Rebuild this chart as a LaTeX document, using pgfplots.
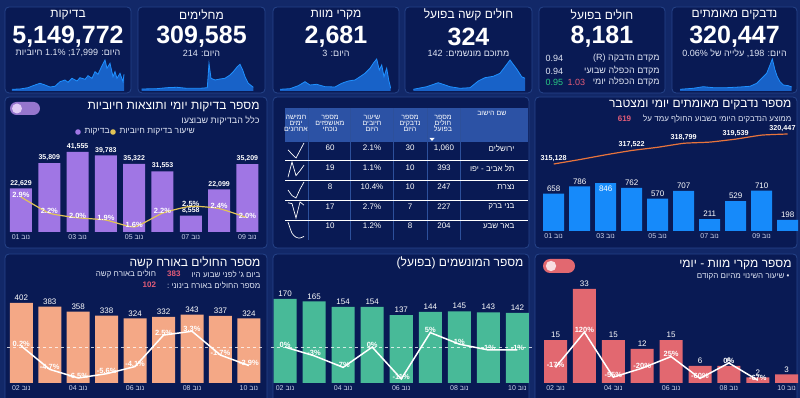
\documentclass[border=0pt]{standalone}
\usepackage{fontspec}
\setmainfont{Liberation Sans}
\newfontfamily\heb[Script=Hebrew]{Liberation Sans}
\usepackage{pgfplots}
\pgfplotsset{compat=1.18}
\TeXXeTstate=1
\newcommand{\R}[1]{{\heb\beginR #1\endR}}
\newcommand{\fs}[1]{\fontsize{#1}{#1}\selectfont}
\definecolor{pagebg}{RGB}{18,40,104}
\definecolor{panel}{RGB}{9,26,84}
\definecolor{pborder}{RGB}{38,68,138}
\definecolor{barpurple}{RGB}{160,118,228}
\definecolor{lineyellow}{RGB}{226,196,86}
\definecolor{barblue}{RGB}{22,138,250}
\definecolor{lineorange}{RGB}{232,116,60}
\definecolor{barsalmon}{RGB}{244,168,134}
\definecolor{barteal}{RGB}{72,186,152}
\definecolor{barred}{RGB}{226,104,112}
\definecolor{accpink}{RGB}{226,92,120}
\definecolor{accgreen}{RGB}{40,200,130}
\definecolor{sparkline}{RGB}{30,144,255}
\definecolor{sparkfill}{RGB}{24,98,200}
\definecolor{thead}{RGB}{44,82,165}
\definecolor{subtxt}{RGB}{225,230,245}
\definecolor{ticktxt}{RGB}{205,212,235}
\definecolor{tdiv}{RGB}{45,80,155}
\definecolor{pillpurple}{RGB}{150,118,205}
\definecolor{knobpurple}{RGB}{225,205,245}
\definecolor{knobred}{RGB}{248,222,226}
\pgfplotsset{
  barax/.style={scale only axis, anchor=south west, clip=false,
    axis line style={draw=none}, ytick=\empty, major tick length=0pt,
    xticklabel style={font=\fs{7}, text=ticktxt, yshift=1pt}, xmin=0.5, ymin=0},
  lineax/.style={scale only axis, anchor=south west, clip=false, hide axis, xmin=0.5},
  spark/.style={scale only axis, anchor=south west, hide axis, y dir=reverse, ymin=57, ymax=91, clip=false},
  barlbl/.style={nodes near coords, point meta=explicit symbolic,
    every node near coord/.append style={text=white, font=#1, anchor=south, inner sep=2pt}},
  linelbl/.style={nodes near coords, point meta=explicit symbolic,
    every node near coord/.append style={text=white, font=\bfseries\fs{7.5}, anchor=south, yshift=-2pt, inner sep=1pt}},
}
\begin{document}
\begin{tikzpicture}[x=1pt,y=1pt]
\useasboundingbox (0,0) rectangle (800,398);
\fill[pagebg] (0,0) rectangle (800,398);
% ---------- panels ----------
\foreach \a/\b in {5/131,138/265,273/399,405/532,539/665,672/797}{
  \filldraw[fill=panel, draw=pborder, line width=0.8pt, rounded corners=4pt] (\a,398-7) rectangle (\b,398-93);
}
\foreach \a/\b in {5/267,273/529,535/797}{
  \filldraw[fill=panel, draw=pborder, line width=0.8pt, rounded corners=4pt] (\a,398-97) rectangle (\b,398-248);
  \filldraw[fill=panel, draw=pborder, line width=0.8pt, rounded corners=4pt] (\a,398-254) rectangle (\b,398-402);
}
% ---------- KPI texts ----------
\node[text=white, font=\fs{12}] at (68,398-15) {\R{בדיקות}};
\node[text=white, font=\fs{12}] at (201.5,398-15) {\R{מחלימים}};
\node[text=white, font=\fs{12}] at (336,398-15) {\R{מקרי מוות}};
\node[text=white, font=\fs{12}] at (468.5,398-15) {\R{חולים קשה בפועל}};
\node[text=white, font=\fs{12}] at (602,398-15) {\R{חולים בפועל}};
\node[text=white, font=\fs{12}] at (734.5,398-15) {\R{נדבקים מאומתים}};
\node[text=white, font=\bfseries\fs{25}] at (68,398-37) {5,149,772};
\node[text=white, font=\bfseries\fs{25}] at (201.5,398-37) {309,585};
\node[text=white, font=\bfseries\fs{25}] at (336,398-37) {2,681};
\node[text=white, font=\bfseries\fs{25}] at (468.5,398-37) {324};
\node[text=white, font=\bfseries\fs{25}] at (602,398-37) {8,181};
\node[text=white, font=\bfseries\fs{25}] at (734.5,398-37) {320,447};
\node[text=subtxt, font=\fs{9}] at (68,398-53) {\R{היום: 17,999; 1.1\% חיוביות}};
\node[text=subtxt, font=\fs{9}] at (201.5,398-53) {\R{היום: 214}};
\node[text=subtxt, font=\fs{9}] at (336,398-53) {\R{היום: 3}};
\node[text=subtxt, font=\fs{9}] at (468.5,398-53) {\R{מתוכם מונשמים: 142}};
\node[text=subtxt, font=\fs{9}] at (734.5,398-53) {\R{היום: 198, עלייה של 0.06\%}};
\node[text=subtxt, font=\fs{9}, anchor=east] at (663,398-58) {\R{מקדם הדבקה (R)}};
\node[text=subtxt, font=\fs{9}, anchor=east] at (663,398-71) {\R{מקדם הכפלה שבועי}};
\node[text=subtxt, font=\fs{9}, anchor=east] at (663,398-82) {\R{מקדם הכפלה יומי}};
\node[text=subtxt, font=\fs{9}, anchor=west] at (542,398-58) {0.94};
\node[text=subtxt, font=\fs{9}, anchor=west] at (542,398-71) {0.94};
\node[text=accgreen, font=\fs{9}, anchor=west] at (542,398-82) {0.95};
\node[text=accpink, font=\fs{9}, anchor=west] at (564,398-82) {1.03};
% ---------- sparklines ----------
\begin{axis}[spark, at={(12pt,307pt)}, width=112pt, height=34pt, xmin=12, xmax=124]
\addplot[draw=none, fill=sparkfill] coordinates {(12,91) (12,89.3) (20,89) (28,87.7) (33,85.7) (40,83.3) (45,85) (50,87) (55,86.3) (60,81.7) (65,80) (68,82.3) (72,78.3) (77,81) (80,77.7) (85,79.3) (88,75.7) (92,78.3) (95,71.7) (98,74.3) (102,65.7) (105,60) (107,68.3) (110,63.3) (113,76.7) (115,71.7) (117,78.3) (120,73.3) (123,81.7) (124,74.3) (124,91)} -- cycle;
\addplot[sparkline, line width=0.8pt] coordinates {(12,89.3) (20,89) (28,87.7) (33,85.7) (40,83.3) (45,85) (50,87) (55,86.3) (60,81.7) (65,80) (68,82.3) (72,78.3) (77,81) (80,77.7) (85,79.3) (88,75.7) (92,78.3) (95,71.7) (98,74.3) (102,65.7) (105,60) (107,68.3) (110,63.3) (113,76.7) (115,71.7) (117,78.3) (120,73.3) (123,81.7) (124,74.3)};
\end{axis}
\begin{axis}[spark, at={(141.7pt,307pt)}, width=111.6pt, height=34pt, xmin=141.7, xmax=253.3]
\addplot[draw=none, fill=sparkfill] coordinates {(141.7,91) (141.7,89) (156.7,88.7) (166.7,87.7) (176.7,87.3) (186.7,88.3) (200,88.3) (207.3,87.7) (209,63.3) (211,78.3) (215,80) (220,79) (225,78.3) (230,75) (233.3,71.7) (237.3,66.7) (240,64.3) (242.7,70) (245,76.7) (248.3,83.3) (253.3,87.3) (253.3,91)} -- cycle;
\addplot[sparkline, line width=0.8pt] coordinates {(141.7,89) (156.7,88.7) (166.7,87.7) (176.7,87.3) (186.7,88.3) (200,88.3) (207.3,87.7) (209,63.3) (211,78.3) (215,80) (220,79) (225,78.3) (230,75) (233.3,71.7) (237.3,66.7) (240,64.3) (242.7,70) (245,76.7) (248.3,83.3) (253.3,87.3)};
\end{axis}
\begin{axis}[spark, at={(280pt,307pt)}, width=110.7pt, height=34pt, xmin=280, xmax=390.7]
\addplot[draw=none, fill=sparkfill] coordinates {(280,91) (280,89.3) (290,88.7) (298.3,85.7) (305,81.7) (310,85) (316.7,84.3) (325,86.7) (335,87) (341.7,83.3) (348.3,81) (355,80) (360,76.7) (365,73.3) (370,68.3) (373.3,63.3) (376.7,59) (379.3,70) (381.7,65) (384,76.7) (386.7,68.3) (388.7,80) (390.7,88.3) (390.7,91)} -- cycle;
\addplot[sparkline, line width=0.8pt] coordinates {(280,89.3) (290,88.7) (298.3,85.7) (305,81.7) (310,85) (316.7,84.3) (325,86.7) (335,87) (341.7,83.3) (348.3,81) (355,80) (360,76.7) (365,73.3) (370,68.3) (373.3,63.3) (376.7,59) (379.3,70) (381.7,65) (384,76.7) (386.7,68.3) (388.7,80) (390.7,88.3)};
\end{axis}
\begin{axis}[spark, at={(413.3pt,307pt)}, width=111.7pt, height=34pt, xmin=413.3, xmax=525]
\addplot[draw=none, fill=sparkfill] coordinates {(413.3,91) (413.3,89.3) (426.7,86.7) (438.3,82.7) (450,86.7) (460,88.3) (470,87.7) (478.3,81) (485,77.7) (493.3,76.3) (500,73.3) (505,66.7) (510,60) (516.7,69) (521.7,76.7) (525,78.3) (525,91)} -- cycle;
\addplot[sparkline, line width=0.8pt] coordinates {(413.3,89.3) (426.7,86.7) (438.3,82.7) (450,86.7) (460,88.3) (470,87.7) (478.3,81) (485,77.7) (493.3,76.3) (500,73.3) (505,66.7) (510,60) (516.7,69) (521.7,76.7) (525,78.3)};
\end{axis}
\begin{axis}[spark, at={(680pt,307pt)}, width=111.7pt, height=34pt, xmin=680, xmax=791.7]
\addplot[draw=none, fill=sparkfill] coordinates {(680,91) (680,89.3) (693.3,88.3) (703.3,86.7) (713.3,87.7) (726.7,87.7) (740,87) (750,86.3) (756.7,83.3) (761.7,78.3) (766.7,73.3) (770,65) (772.3,59) (775,70) (777.3,76.7) (780,81.7) (783.3,85) (788.3,85.7) (791.7,87) (791.7,91)} -- cycle;
\addplot[sparkline, line width=0.8pt] coordinates {(680,89.3) (693.3,88.3) (703.3,86.7) (713.3,87.7) (726.7,87.7) (740,87) (750,86.3) (756.7,83.3) (761.7,78.3) (766.7,73.3) (770,65) (772.3,59) (775,70) (777.3,76.7) (780,81.7) (783.3,85) (788.3,85.7) (791.7,87)};
\end{axis}
% ---------- middle left: tests ----------
\node[text=white, font=\fs{12}, anchor=east] at (263,398-107) {\R{מספר בדיקות יומי ותוצאות חיוביות}};
\node[text=subtxt, font=\fs{9}, anchor=east] at (263,398-121) {\R{כלל הבדיקות שבוצעו}};
\fill[barpurple] (78,398-132) circle (2.8);
\node[text=subtxt, font=\fs{8.5}, anchor=west] at (81,398-132) {\R{בדיקות}};
\fill[lineyellow] (113,398-132) circle (2.8);
\node[text=subtxt, font=\fs{8.5}, anchor=west] at (116,398-132) {\R{שיעור בדיקות חיוביות}};
\fill[rounded corners=6.5pt, pillpurple] (10,398-102) rectangle (40,398-115);
\fill[knobpurple] (17,398-108.5) circle (5);
\begin{axis}[barax, at={(6.85pt,166pt)}, width=254.7pt, height=92pt, xmax=9.5, ymax=47790,
  xtick={1,3,5,7,9}, xticklabels={\R{נוב 01},\R{נוב 03},\R{נוב 05},\R{נוב 07},\R{נוב 09}}]
\addplot[ybar, bar width=22pt, fill=barpurple, draw=none, barlbl={\bfseries\fs{7}}] coordinates {(1,22629)[22,629] (2,35809)[35,809] (3,41555)[41,555] (4,39783)[39,783] (5,35322)[35,322] (6,31553)[31,553] (7,8558)[8,558] (8,22099)[22,099] (9,35209)[35,209]};
\end{axis}
\begin{axis}[lineax, at={(6.85pt,166pt)}, width=254.7pt, height=92pt, xmax=9.5, ymin=1.38, ymax=5.38]
\addplot[lineyellow, line width=1.2pt, mark=none, smooth, tension=0.3, linelbl] coordinates {(1,2.9)[2.9\%] (2,2.2)[2.2\%] (3,2.0)[2.0\%] (4,1.9)[1.9\%] (5,1.6)[1.6\%] (6,2.2)[2.2\%] (7,2.5)[2.5\%] (8,2.4)[2.4\%] (9,2.0)[2.0\%]};
\end{axis}
% ---------- middle: table ----------
\fill[thead] (285,398-108) rectangle (528,398-142);
\foreach \xx in {308,350,393,427,460}{\draw[tdiv, line width=0.5pt] (\xx,398-108) -- (\xx,398-240);}
\foreach \yy in {160,180,200,220}{\draw[white, line width=0.5pt] (285,398-\yy) -- (528,398-\yy);}
\node[text=white, font=\fs{7}, anchor=east] at (510,398-113) {\R{שם הישוב}};
\node[text=white, font=\fs{7}, align=center] at (443,398-123) {\R{מספר}\\[-1pt]\R{חולים}\\[-1pt]\R{בפועל}};
\node[text=white, font=\fs{7}, align=center] at (410,398-123) {\R{מספר}\\[-1pt]\R{נדבקים}\\[-1pt]\R{היום}};
\node[text=white, font=\fs{7}, align=center] at (372,398-123) {\R{שיעור}\\[-1pt]\R{חיובים}\\[-1pt]\R{היום}};
\node[text=white, font=\fs{7}, align=center] at (330,398-123) {\R{מספר}\\[-1pt]\R{מאושפזים}\\[-1pt]\R{נוכחי}};
\node[text=white, font=\fs{7}, align=center] at (296,398-123) {\R{חמישה}\\[-1pt]\R{ימים}\\[-1pt]\R{אחרונים}};
\fill[white] (429.5,398-138) -- (434.5,398-138) -- (432,398-141) -- cycle;
\foreach \yy/\city/\a/\b/\c/\d in {148/ירושלים/{1,060}/30/2.1\%/60, 168/תל אביב - יפו/393/10/1.1\%/19, 187/נצרת/247/10/10.4\%/8, 207/בני ברק/227/7/2.7\%/17, 226/באר שבע/204/8/1.2\%/10}{
  \node[text=white, font=\fs{8}, anchor=east] at (518,398-\yy) {\R{\city}};
  \node[text=white, font=\fs{8}] at (444,398-\yy) {\a};
  \node[text=white, font=\fs{8}] at (410,398-\yy) {\b};
  \node[text=white, font=\fs{8}] at (372,398-\yy) {\c};
  \node[text=white, font=\fs{8}] at (330,398-\yy) {\d};
}
\begin{axis}[scale only axis, anchor=south west, hide axis, at={(288pt,158pt)}, width=16pt, height=98pt, xmin=0, xmax=4, ymin=142, ymax=240, y dir=reverse, clip=false]
\addplot[white, line width=0.7pt] coordinates {(0,149.8) (1,154.2) (2,158) (3,150.5) (4,143)};
\addplot[white, line width=0.7pt] coordinates {(0,177.2) (1,162) (2,175.6) (3,170.8) (4,165.2)};
\addplot[white, line width=0.7pt] coordinates {(0,190) (1,195.6) (2,198) (3,189.2) (4,182)};
\addplot[white, line width=0.7pt] coordinates {(0,202.8) (1,203.6) (2,218) (3,202) (4,205.2)};
\addplot[white, line width=0.7pt, smooth] coordinates {(0,222) (1,233.2) (2,237.2) (3,238) (4,236.4)};
\end{axis}
% ---------- middle right: confirmed ----------
\node[text=white, font=\fs{12}, anchor=east] at (795,398-105) {\R{מספר נדבקים מאומתים יומי ומצטבר}};
\node[text=subtxt, font=\fs{8}, anchor=east] (sub619) at (795,398-119) {\R{ממוצע הנדבקים היומי בשבוע החולף עמד על}};
\node[text=accpink, font=\bfseries\fs{8}, anchor=east] at ([xshift=-5pt]sub619.west) {619};
\begin{axis}[barax, at={(540.7pt,167pt)}, width=260pt, height=111pt, xmax=10.5, ymax=1958,
  xtick={1,3,5,7,9}, xticklabels={\R{נוב 01},\R{נוב 03},\R{נוב 05},\R{נוב 07},\R{נוב 09}}]
\addplot[ybar, bar width=21pt, fill=barblue, draw=none, barlbl={\fs{8}}] coordinates {(1,658)[658] (2,786)[786] (3,846)[] (4,762)[762] (5,570)[570] (6,707)[707] (7,211)[211] (8,529)[529] (9,710)[710] (10,198)[198]};
\addplot[draw=none, mark=none, nodes near coords, point meta=explicit symbolic, every node near coord/.append style={text=white, font=\fs{8}, anchor=north, inner sep=3pt}] coordinates {(3,846)[846]};
\end{axis}
\begin{axis}[lineax, at={(540.7pt,167pt)}, width=260pt, height=111pt, xmax=10.5, ymin=303249, ymax=322930]
\addplot[lineorange, line width=1.2pt, mark=none, smooth, tension=0.3, nodes near coords, point meta=explicit symbolic, every node near coord/.append style={text=white, font=\bfseries\fs{7.2}, anchor=south, inner sep=2pt}] coordinates {(1,315128)[315,128] (2,315914)[] (3,316760)[] (4,317522)[317,522] (5,318092)[] (6,318799)[318,799] (7,319010)[] (8,319539)[319,539] (9,320249)[] (10,320447)[]};
\addplot[draw=none, mark=none, nodes near coords, point meta=explicit symbolic, every node near coord/.append style={text=white, font=\bfseries\fs{7.2}, anchor=south east, inner sep=2pt, xshift=10pt}] coordinates {(10,320447)[320,447]};
\end{axis}
% ---------- bottom left: severe ----------
\node[text=white, font=\fs{12}, anchor=east] at (264,398-263) {\R{מספר החולים באורח קשה}};
\node[text=subtxt, font=\fs{8}, anchor=east] (s1) at (264,398-274) {\R{ביום ג' לפני שבוע היו}};
\node[text=accpink, font=\bfseries\fs{8}, anchor=east] (s2) at ([xshift=-4pt]s1.west) {383};
\node[text=subtxt, font=\fs{8}, anchor=east] at ([xshift=-4pt]s2.west) {\R{חולים באורח קשה}};
\node[text=subtxt, font=\fs{8}, anchor=east] (s3) at (264,398-285) {\R{מספר החולים באורח בינוני :}};
\node[text=accpink, font=\bfseries\fs{8}, anchor=east] at ([xshift=-4pt]s3.west) {102};
\begin{axis}[barax, at={(7.07pt,15pt)}, width=256.1pt, height=93pt, xmax=9.5, ymax=467,
  xtick={1,3,5,7,9}, xticklabels={\R{נוב 02},\R{נוב 04},\R{נוב 06},\R{נוב 08},\R{נוב 10}}]
\addplot[ybar, bar width=23pt, fill=barsalmon, draw=none, barlbl={\fs{8}}] coordinates {(1,402)[402] (2,383)[383] (3,358)[358] (4,338)[338] (5,324)[324] (6,332)[332] (7,343)[343] (8,337)[337] (9,324)[324]};
\end{axis}
\begin{axis}[lineax, at={(7.07pt,15pt)}, width=256.1pt, height=93pt, xmax=9.5, ymin=-7.55, ymax=11.95]
\addplot[white, opacity=0.75, dashed, line width=0.8pt] coordinates {(0.5,0) (9.5,0)};
\addplot[white, line width=1.5pt, mark=none, linelbl] coordinates {(1,0.2)[0.2\%] (2,-4.7)[-4.7\%] (3,-6.5)[-6.5\%] (4,-5.6)[-5.6\%] (5,-4.1)[-4.1\%] (6,2.5)[2.5\%] (7,3.3)[3.3\%] (8,-1.7)[-1.7\%] (9,-3.9)[-3.9\%]};
\end{axis}
% ---------- bottom middle: ventilated ----------
\node[text=white, font=\fs{12}, anchor=east] at (527,398-263) {\R{מספר המונשמים (בפועל)}};
\begin{axis}[barax, at={(270.5pt,15pt)}, width=261.5pt, height=93pt, xmax=9.5, ymax=188,
  xtick={1,3,5,7,9}, xticklabels={\R{נוב 02},\R{נוב 04},\R{נוב 06},\R{נוב 08},\R{נוב 10}}]
\addplot[ybar, bar width=23pt, fill=barteal, draw=none, barlbl={\fs{8}}] coordinates {(1,170)[170] (2,165)[165] (3,154)[154] (4,154)[154] (5,137)[137] (6,144)[144] (7,145)[145] (8,143)[143] (9,142)[142]};
\end{axis}
\begin{axis}[lineax, at={(270.5pt,15pt)}, width=261.5pt, height=93pt, xmax=9.5, ymin=-12.4, ymax=19.7]
\addplot[white, opacity=0.75, dashed, line width=0.8pt] coordinates {(0.5,0) (9.5,0)};
\addplot[white, line width=1.5pt, mark=none, linelbl] coordinates {(1,0)[0\%] (2,-3)[-3\%] (3,-7)[-7\%] (4,0)[0\%] (5,-11)[-11\%] (6,5)[5\%] (7,1)[1\%] (8,-1)[-1\%] (9,-1)[-1\%]};
\end{axis}
% ---------- bottom right: deaths ----------
\node[text=white, font=\fs{12}, anchor=east] at (795,398-265) {\R{מספר מקרי מוות - יומי}};
\node[text=subtxt, font=\fs{8}, anchor=east] at (793,398-277) {\R{• שיעור השינוי מהיום הקודם}};
\fill[rounded corners=7pt, barred] (543,398-259) rectangle (575,398-273);
\fill[knobred] (551,398-266) circle (5.2);
\begin{axis}[barax, at={(541.05pt,15pt)}, width=260.1pt, height=103pt, xmax=9.5, ymax=36.1,
  xtick={1,3,5,7,9}, xticklabels={\R{נוב 02},\R{נוב 04},\R{נוב 06},\R{נוב 08},\R{נוב 10}}]
\addplot[ybar, bar width=23pt, fill=barred, draw=none, barlbl={\fs{8}}] coordinates {(1,15)[15] (2,33)[33] (3,15)[15] (4,12)[12] (5,15)[15] (6,6)[6] (7,6)[6] (8,2)[2] (9,3)[3]};
\end{axis}
\begin{axis}[lineax, at={(541.05pt,15pt)}, width=260.1pt, height=103pt, xmax=9.5, ymin=-77.8, ymax=323]
\addplot[white, line width=1.5pt, mark=none, linelbl] coordinates {(1,-17)[-17\%] (2,120)[120\%] (3,-55)[-55\%] (4,-20)[-20\%] (5,25)[25\%] (6,-60)[-60\%] (7,0)[0\%] (8,-67)[-67\%]};
\end{axis}
\end{tikzpicture}
\end{document}
